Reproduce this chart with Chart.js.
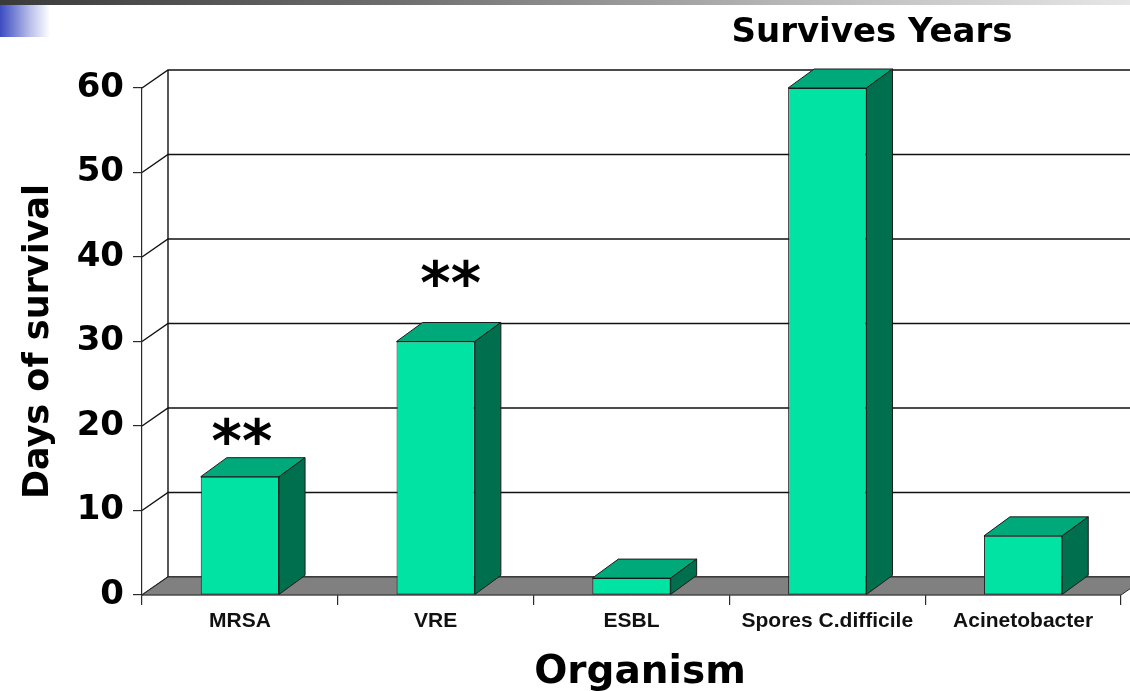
<!DOCTYPE html>
<html>
<head>
<meta charset="utf-8">
<script src="https://cdn.jsdelivr.net/npm/chart.js@4/dist/chart.umd.min.js"></script>
<style>
  html, body { margin: 0; padding: 0; background: #ffffff; }
  #wrap { position: relative; width: 1130px; height: 691px; overflow: hidden; background: #ffffff; }
  #stripe { position: absolute; left: 0; top: 0; width: 1130px; height: 5px;
    background: linear-gradient(to right, #3a3a3a 0%, #6e6e6e 35%, #b8b8b8 70%, #e6e6e6 100%); }
  #corner { position: absolute; left: 0; top: 5px; width: 50px; height: 32px;
    background: linear-gradient(to right, #3c4cc0 0%, #6f7bd2 25%, #b9bfe9 60%, rgba(255,255,255,0) 100%); }
  canvas { position: absolute; left: 0; top: 0; }
</style>
</head>
<body>
<div id="wrap">
  <div id="stripe"></div>
  <div id="corner"></div>
  <canvas id="chart" width="1130" height="691"></canvas>
</div>
<script>
// Organisms and how many days each survives on surfaces
const categories = ['MRSA', 'VRE', 'ESBL', 'Spores C.difficile', 'Acinetobacter'];
const survivalDays = [14, 30, 2, 60, 7];
// Markers printed above individual columns
const columnNotes = ['**', '**', '', '', ''];
const yTickValues = [0, 10, 20, 30, 40, 50, 60];
const headline = 'Survives Years';
const xTitle = 'Organism';

const FRONT = '#00e3a3';
const TOP = '#00a97a';
const SIDE = '#006f4e';
const EDGE = '#1c1c1c';
const DEPTH_X = 26, DEPTH_Y = -18;

// Back wall, side wall and floor of the 3D box, drawn under the columns
const box3d = {
  id: 'box3d',
  beforeDatasetsDraw(chart) {
    const { ctx, chartArea: a, scales: { y } } = chart;
    ctx.save();
    ctx.strokeStyle = '#111';
    ctx.lineWidth = 1.4;
    yTickValues.forEach(v => {
      const py = y.getPixelForValue(v);
      ctx.beginPath();
      ctx.moveTo(a.left, py);
      ctx.lineTo(a.left + DEPTH_X, py + DEPTH_Y);
      ctx.lineTo(a.right + DEPTH_X, py + DEPTH_Y);
      ctx.stroke();
    });
    ctx.beginPath();
    ctx.moveTo(a.left + DEPTH_X, a.top + DEPTH_Y);
    ctx.lineTo(a.left + DEPTH_X, a.bottom + DEPTH_Y);
    ctx.stroke();
    // floor
    ctx.beginPath();
    ctx.moveTo(a.left, a.bottom);
    ctx.lineTo(a.right, a.bottom);
    ctx.lineTo(a.right + DEPTH_X, a.bottom + DEPTH_Y);
    ctx.lineTo(a.left + DEPTH_X, a.bottom + DEPTH_Y);
    ctx.closePath();
    ctx.fillStyle = '#808080';
    ctx.fill();
    ctx.strokeStyle = '#2a2a2a';
    ctx.lineWidth = 1;
    ctx.stroke();
    ctx.restore();
  },
  afterDatasetsDraw(chart, args, opts) {
    const { ctx, chartArea: a } = chart;
    const meta = chart.getDatasetMeta(0);
    ctx.save();
    ctx.lineWidth = 1;
    ctx.strokeStyle = EDGE;
    ctx.lineJoin = 'round';
    meta.data.forEach((bar) => {
      const { x, y, base, width } = bar.getProps(['x', 'y', 'base', 'width'], true);
      const l = x - width / 2, r = x + width / 2;
      // top face
      ctx.beginPath();
      ctx.moveTo(l, y);
      ctx.lineTo(l + DEPTH_X, y + DEPTH_Y - 1);
      ctx.lineTo(r + DEPTH_X, y + DEPTH_Y - 1);
      ctx.lineTo(r, y);
      ctx.closePath();
      ctx.fillStyle = TOP;
      ctx.fill();
      ctx.stroke();
      // side face
      ctx.beginPath();
      ctx.moveTo(r, y);
      ctx.lineTo(r + DEPTH_X, y + DEPTH_Y - 1);
      ctx.lineTo(r + DEPTH_X, base + DEPTH_Y - 1);
      ctx.lineTo(r, base);
      ctx.closePath();
      ctx.fillStyle = SIDE;
      ctx.fill();
      ctx.stroke();
    });
    // note markers over columns
    ctx.fillStyle = '#000';
    ctx.textAlign = 'center';
    ctx.textBaseline = 'alphabetic';
    ctx.font = 'bold 58px "DejaVu Sans"';
    meta.data.forEach((bar, i) => {
      const note = columnNotes[i];
      if (!note) return;
      const { x, y } = bar.getProps(['x', 'y'], true);
      const lift = opts.noteLift[i] || 0;
      const shift = opts.noteShift[i] || 0;
      ctx.fillText(note, x + shift, y - lift);
    });
    // headline over the tallest column
    ctx.font = 'bold 34px "DejaVu Sans"';
    ctx.fillText(headline, 872, 42);
    // category axis title
    ctx.font = 'bold 39px "DejaVu Sans"';
    ctx.fillText(xTitle, 640, 683);
    ctx.restore();
  }
};

new Chart(document.getElementById('chart'), {
  type: 'bar',
  data: {
    labels: categories,
    datasets: [{
      label: 'Days of survival',
      data: survivalDays,
      backgroundColor: FRONT,
      borderColor: EDGE,
      borderWidth: 1,
      borderSkipped: false,
      barPercentage: 0.4,
      categoryPercentage: 1.0
    }]
  },
  options: {
    responsive: false,
    animation: false,
    devicePixelRatio: 1,
    layout: { padding: { top: 88, right: 9, left: 0, bottom: 0 } },
    plugins: {
      legend: { display: false },
      tooltip: { enabled: false },
      box3d: { noteLift: [16, 39, 0, 0, 0], noteShift: [2, 15, 0, 0, 0] }
    },
    scales: {
      x: {
        afterFit(scale) { scale.height = 96; },
        grid: { offset: true, drawOnChartArea: false, drawTicks: true, tickLength: 10, color: '#2a2a2a', lineWidth: 1.2 },
        border: { display: true, color: '#2a2a2a', width: 1.2 },
        ticks: { color: '#111', padding: 4, maxRotation: 0,
          font: { family: '"Liberation Sans", Arial, sans-serif', weight: 'bold', size: 21 } },
        title: { display: false }
      },
      y: {
        min: 0, max: 60,
        afterFit(scale) { scale.width = 142; },
        afterBuildTicks(scale) { scale.ticks = yTickValues.map(v => ({ value: v })); },
        grid: { drawOnChartArea: false, drawTicks: true, tickLength: 9, color: '#2a2a2a', lineWidth: 1.2 },
        border: { display: true, color: '#2a2a2a', width: 1.2 },
        ticks: { color: '#000', padding: 9,
          font: { family: '"DejaVu Sans"', weight: 'bold', size: 34 } },
        title: { display: true, text: 'Days of survival', color: '#000',
          font: { family: '"DejaVu Sans"', weight: 'bold', size: 35, lineHeight: 1.2 }, padding: { top: 18, bottom: 0 } }
      }
    }
  },
  plugins: [box3d]
});
</script>
</body>
</html>
